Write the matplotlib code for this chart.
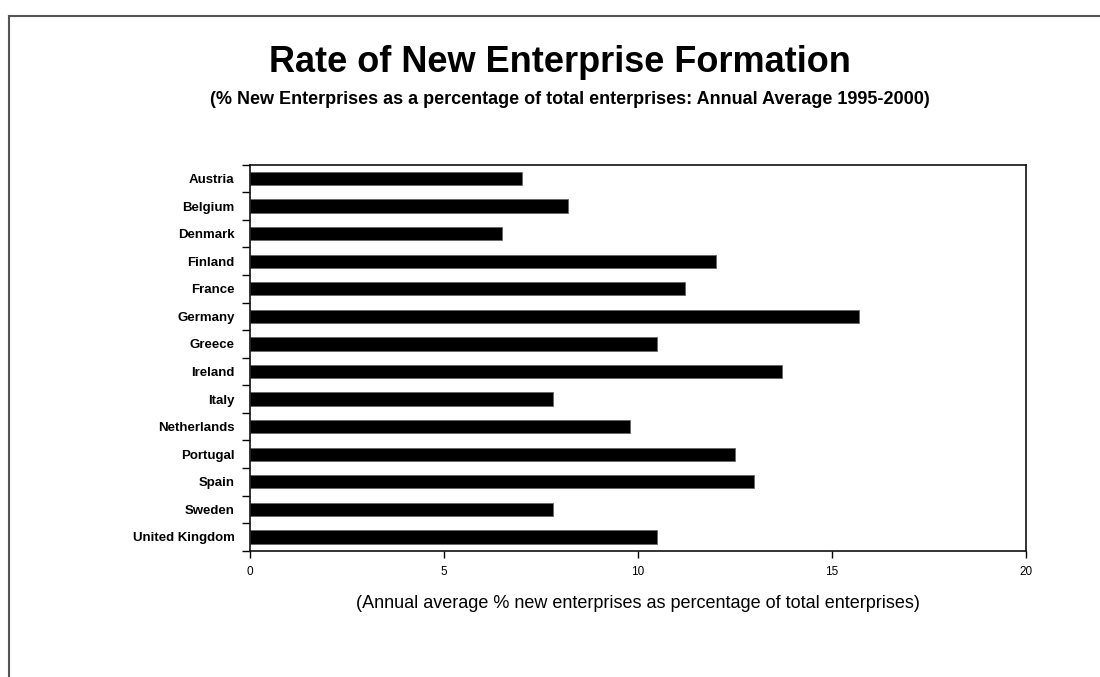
import matplotlib
matplotlib.use("Agg")
import matplotlib.pyplot as plt
from matplotlib.lines import Line2D

countries = ["Austria", "Belgium", "Denmark", "Finland", "France", "Germany",
             "Greece", "Ireland", "Italy", "Netherlands", "Portugal", "Spain",
             "Sweden", "United Kingdom"]
rates = [7.0, 8.2, 6.5, 12.0, 11.2, 15.7, 10.5, 13.7, 7.8, 9.8, 12.5, 13.0, 7.8, 10.5]
x_ticks = [0, 5, 10, 15, 20]

title = "Rate of New Enterprise Formation"
subtitle = ("(% New Enterprises as a percentage of total enterprises: "
            "Annual Average 1995-2000)")
x_label = "(Annual average % new enterprises as percentage of total enterprises)"

plt.rcParams["font.family"] = ["Liberation Sans", "DejaVu Sans"]

W, H = 1100, 677
fig = plt.figure(figsize=(W / 100, H / 100), dpi=100)
fig.patch.set_facecolor("white")

# page frame: top and left rules
fig.add_artist(Line2D([9 / W, 1.0], [1 - 15.7 / H, 1 - 15.7 / H],
                      transform=fig.transFigure, color="#555555", lw=1.5))
fig.add_artist(Line2D([9 / W, 9 / W], [0.0, 1 - 15.7 / H],
                      transform=fig.transFigure, color="#555555", lw=1.5))

ax = fig.add_axes([250 / W, 1 - 550.7 / H, (1026 - 250) / W, (550.7 - 164.7) / H])

pos = list(range(len(countries)))
ax.barh(pos, rates, height=0.48, color="black", edgecolor="#666666", linewidth=0.6)

ax.set_xlim(0, 20)
ax.set_ylim(len(countries) - 0.5, -0.5)
ax.set_xticks(x_ticks)
ax.set_xticklabels([str(t) for t in x_ticks], fontsize=8.5)
ax.set_yticks(pos)
ax.set_yticklabels(countries, fontsize=9.5, fontweight="bold")
ax.set_yticks([p - 0.5 for p in pos] + [len(countries) - 0.5], minor=True)
ax.tick_params(axis="y", which="major", length=0, pad=11)
ax.tick_params(axis="y", which="minor", length=6, width=1, direction="out")
ax.tick_params(axis="x", length=5, width=1, direction="out", pad=6)

for s in ax.spines.values():
    s.set_linewidth(1.2)
    s.set_color("#111111")

ax.set_xlabel(x_label, fontsize=13, labelpad=12)

fig.text(560 / W, 1 - 62 / H, title, ha="center", va="center",
         fontsize=26, fontweight="bold")
fig.text(570 / W, 1 - 100 / H, subtitle, ha="center", va="center",
         fontsize=13, fontweight="bold")

fig.savefig("out.png", dpi=100)
